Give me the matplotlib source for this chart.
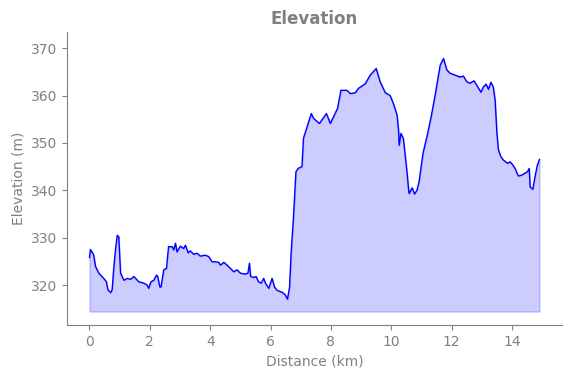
import matplotlib
matplotlib.use("Agg")
import matplotlib.pyplot as plt

distance_km = [
    0.00, 0.03, 0.11, 0.14, 0.20, 0.31, 0.47, 0.56, 0.61, 0.70, 0.75, 0.80, 0.86, 0.92, 0.97,
    1.03, 1.14, 1.25, 1.36, 1.47, 1.63, 1.80, 1.91, 1.96, 2.04, 2.13, 2.22, 2.26, 2.33, 2.37,
    2.46, 2.55, 2.62, 2.74, 2.79, 2.85, 2.90, 3.01, 3.12, 3.18, 3.27, 3.34, 3.45, 3.57, 3.67,
    3.84, 3.95, 4.06, 4.17, 4.28, 4.34, 4.45, 4.56, 4.67, 4.78, 4.89, 5.00, 5.16, 5.25, 5.30,
    5.34, 5.44, 5.52, 5.60, 5.69, 5.77, 5.83, 5.94, 6.05, 6.13, 6.21, 6.32, 6.40, 6.49, 6.56,
    6.63, 6.68, 6.76, 6.84, 6.91, 7.04, 7.07, 7.09, 7.21, 7.35, 7.42, 7.62, 7.85, 7.98, 8.14,
    8.22, 8.33, 8.53, 8.64, 8.81, 8.91, 9.14, 9.30, 9.50, 9.63, 9.80, 9.96, 10.07, 10.19, 10.24,
    10.26, 10.32, 10.40, 10.46, 10.52, 10.57, 10.59, 10.69, 10.77, 10.85, 10.92, 11.05, 11.18,
    11.32, 11.45, 11.62, 11.73, 11.84, 11.95, 12.12, 12.28, 12.39, 12.50, 12.61, 12.74, 12.83,
    12.97, 13.05, 13.14, 13.22, 13.30, 13.38, 13.44, 13.50, 13.55, 13.63, 13.71, 13.85, 13.94,
    14.03, 14.10, 14.21, 14.32, 14.43, 14.51, 14.57, 14.60, 14.69, 14.76, 14.84, 14.91,
]
elevation_m = [
    325.8, 327.5, 326.7, 326.3, 323.9, 322.5, 321.4, 320.7, 319.0, 318.4, 319.0, 323.2, 327.4, 330.5, 330.2,
    322.5, 321.0, 321.4, 321.2, 321.8, 320.7, 320.4, 320.0, 319.3, 320.7, 321.0, 322.1, 321.8, 319.6, 319.6,
    323.2, 323.5, 328.1, 328.1, 327.4, 328.8, 327.0, 328.2, 327.7, 328.4, 326.8, 327.2, 326.5, 326.7, 326.1,
    326.3, 326.0, 324.9, 324.9, 324.8, 324.2, 324.8, 324.2, 323.5, 322.8, 323.2, 322.5, 322.3, 322.5, 324.6,
    321.8, 321.6, 321.8, 320.7, 320.4, 321.4, 320.4, 319.3, 321.4, 319.6, 318.9, 318.6, 318.4, 317.9, 317.0,
    319.6, 326.7, 334.4, 343.9, 344.6, 345.0, 348.5, 351.0, 353.4, 356.2, 355.2, 354.1, 356.2, 354.1, 356.2,
    357.3, 361.1, 361.1, 360.4, 360.6, 361.5, 362.5, 364.3, 365.7, 362.9, 360.6, 360.0, 358.3, 355.9, 352.7,
    349.5, 352.0, 350.9, 347.4, 343.9, 340.4, 339.3, 340.5, 339.2, 340.0, 341.8, 347.8, 351.3,
    355.5, 360.0, 366.4, 367.8, 365.4, 364.7, 364.3, 363.9, 364.1, 362.9, 362.6, 363.1, 362.2,
    360.7, 361.8, 362.4, 361.3, 362.8, 361.8, 359.0, 352.0, 348.5, 347.1, 346.4, 345.7, 346.0,
    345.3, 344.6, 343.0, 343.2, 343.6, 343.9, 344.6, 340.7, 340.2, 342.8, 345.3, 346.5,
]
fill_base_m = 314.4
y_limits = (311.56, 373.4)

GRAY = "#808080"

fig = plt.figure(figsize=(5.71, 3.78), dpi=100)
ax = fig.add_axes([0.1173, 0.1402, 0.8669, 0.7751])

ax.plot(distance_km, elevation_m, color="blue", linewidth=1.0)
ax.fill_between(distance_km, elevation_m, fill_base_m, color="blue", alpha=0.2)
ax.set_ylim(*y_limits)

ax.set_title("Elevation", fontsize=12, fontweight="bold", color=GRAY)
ax.set_xlabel("Distance (km)", fontsize=10, color=GRAY)
ax.set_ylabel("Elevation (m)", fontsize=10, color=GRAY)

for side in ("top", "right"):
    ax.spines[side].set_visible(False)
for side in ("left", "bottom"):
    ax.spines[side].set_color(GRAY)
ax.tick_params(colors=GRAY, labelcolor=GRAY, labelsize=10)

fig.savefig("out.png", dpi=100)
